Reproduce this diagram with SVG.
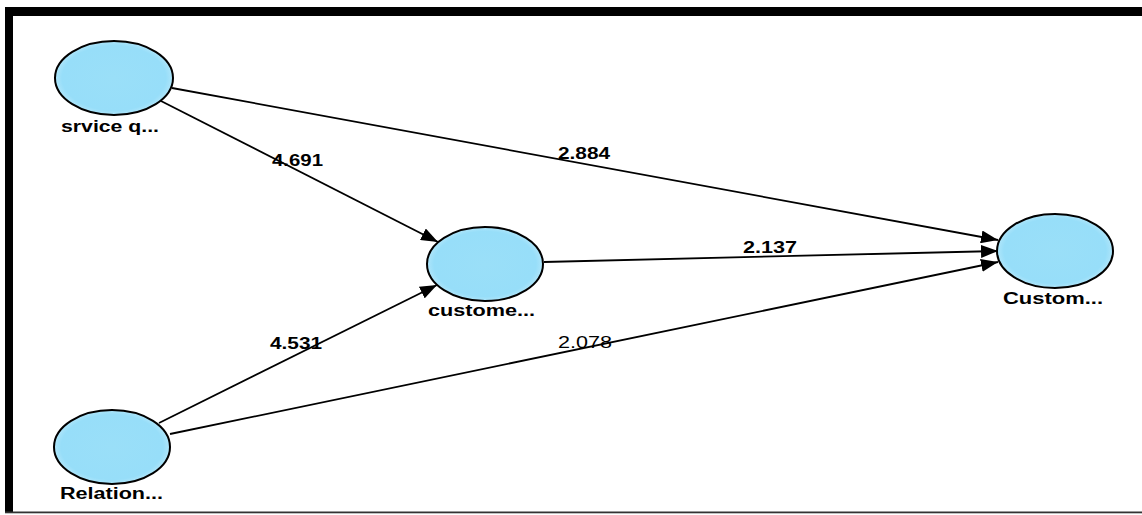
<svg xmlns="http://www.w3.org/2000/svg" width="1142" height="515" viewBox="0 0 1142 515">
  <style>
    .node { fill: url(#bubble); stroke: #000; stroke-width: 2; }
    .lbl { font-family: "Liberation Sans", Arial, sans-serif; font-size: 16px; font-weight: bold; fill: #000; }
    .val { font-family: "Liberation Sans", Arial, sans-serif; font-size: 16px; font-weight: bold; fill: #000; }
    .plain { font-weight: normal; }
    .edge { stroke: #000; stroke-width: 1.8; fill: none; marker-end: url(#arrow); }
  </style>
  <defs>
    <radialGradient id="bubble" cx="50%" cy="50%" r="55%">
      <stop offset="0%" stop-color="#9adff8"/>
      <stop offset="80%" stop-color="#97def9"/>
      <stop offset="100%" stop-color="#c4ecfb"/>
    </radialGradient>
    <marker id="arrow" markerUnits="userSpaceOnUse" markerWidth="19" markerHeight="13" refX="17" refY="6.5" orient="auto">
      <path d="M0,0 L17,6.5 L0,13 Z" fill="#000"/>
    </marker>
  </defs>
  <rect x="0" y="0" width="1142" height="515" fill="#fff"/>
  <!-- frame -->
  <rect x="5" y="7" width="1137" height="9" fill="#000"/>
  <rect x="5" y="7" width="8" height="506" fill="#000"/>
  <rect x="5" y="511.5" width="1137" height="1.8" fill="#333"/>

  <g id="connectors">
    <line class="edge" x1="161" y1="101" x2="438" y2="242"/>
    <line class="edge" x1="172" y1="88" x2="998" y2="240"/>
    <line class="edge" x1="544" y1="262" x2="998" y2="251"/>
    <line class="edge" x1="159" y1="423" x2="437" y2="285"/>
    <line class="edge" x1="170" y1="434" x2="998" y2="262"/>
    <text class="val" x="272" y="166" textLength="51" lengthAdjust="spacingAndGlyphs">4.691</text>
    <text class="val" x="558" y="159" textLength="52" lengthAdjust="spacingAndGlyphs">2.884</text>
    <text class="val" x="743" y="253" textLength="54" lengthAdjust="spacingAndGlyphs">2.137</text>
    <text class="val" x="270" y="349" textLength="52" lengthAdjust="spacingAndGlyphs">4.531</text>
    <text class="val plain" x="558" y="348" textLength="54" lengthAdjust="spacingAndGlyphs">2.078</text>
  </g>

  <g id="node-srvice">
    <ellipse class="node" cx="114" cy="78" rx="59" ry="37"/>
    <text class="lbl" x="61" y="132" textLength="98" lengthAdjust="spacingAndGlyphs">srvice q...</text>
  </g>
  <g id="node-custome">
    <ellipse class="node" cx="485" cy="264" rx="58" ry="37"/>
    <text class="lbl" x="428" y="316" textLength="107" lengthAdjust="spacingAndGlyphs">custome...</text>
  </g>
  <g id="node-Custom">
    <ellipse class="node" cx="1055" cy="251" rx="58" ry="37"/>
    <text class="lbl" x="1003" y="304" textLength="100" lengthAdjust="spacingAndGlyphs">Custom...</text>
  </g>
  <g id="node-Relation">
    <ellipse class="node" cx="112" cy="447" rx="58" ry="37"/>
    <text class="lbl" x="60" y="499" textLength="103" lengthAdjust="spacingAndGlyphs">Relation...</text>
  </g>
</svg>
